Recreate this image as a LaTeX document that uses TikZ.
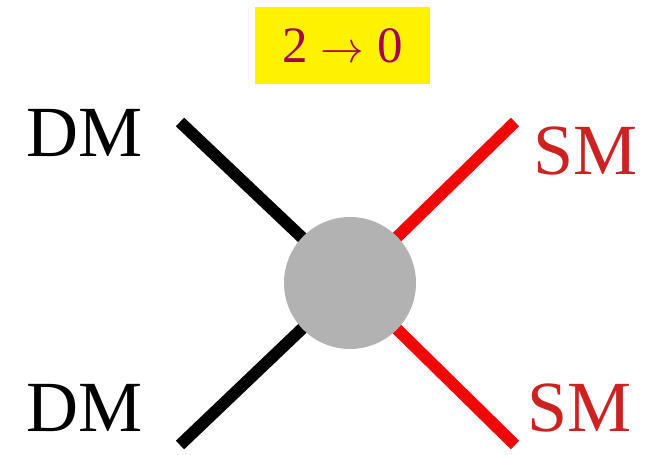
\documentclass[tikz,border=0pt]{standalone}
\usepackage{fontspec}
\setmainfont{Liberation Serif}
\usepackage{xcolor}
\usepackage{tikz}
\usetikzlibrary{positioning,calc}
\definecolor{darkpurple}{RGB}{165, 0, 80}
\definecolor{labelred}{RGB}{204, 34, 34}
\definecolor{legred}{RGB}{240, 8, 8}
\definecolor{blobgray}{RGB}{178, 178, 178}

\begin{document}
\begin{tikzpicture}[x=0.02cm, y=-0.02cm]
    \useasboundingbox (0,0) rectangle (650,455);
    \tikzset{
        leg/.style={line width=6.8pt, line cap=butt},
        particle/.style={font=\fontsize{41}{41}\selectfont, inner sep=0pt}
    }
    % External legs
    \coordinate (dmin) at (180,122);
    \coordinate (dmout) at (180,445);
    \coordinate (smin) at (515,122);
    \coordinate (smout) at (515,445);
    \coordinate (vtx) at (350,283);

    \draw[leg, black] (dmin) -- (vtx);
    \draw[leg, black] (dmout) -- (vtx);
    \draw[leg, legred] (smin) -- (vtx);
    \draw[leg, legred] (smout) -- (vtx);

    % Interaction blob
    \node[circle, fill=blobgray, minimum size=132*0.02cm, inner sep=0pt] (blob) at (vtx) {};

    % Particle labels
    \node[particle, anchor=center] (dm1) at (85,133) {DM};
    \node[particle, anchor=center] (dm2) at (85,408) {DM};
    \node[particle, anchor=center, text=labelred] (sm1) at (586,151) {SM};
    \node[particle, anchor=center, text=labelred] (sm2) at (580,408) {SM};

    % Process label
    \node[fill=yellow, text=darkpurple, minimum width=175*0.02cm, minimum height=77*0.02cm,
          inner sep=0pt, font=\fontsize{29}{29}\selectfont] (proc) at (342.5,45.5) {2 $\rightarrow$ 0};
\end{tikzpicture}
\end{document}
